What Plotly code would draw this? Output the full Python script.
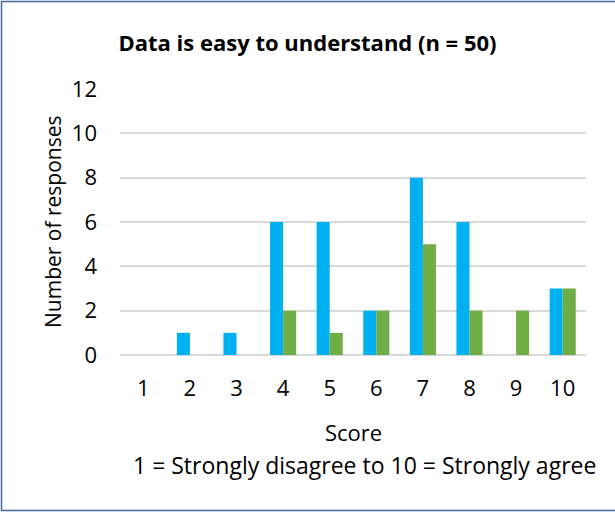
import plotly.graph_objects as go

scores = ["1", "2", "3", "4", "5", "6", "7", "8", "9", "10"]
series_a = [0, 1, 1, 6, 6, 2, 8, 6, 0, 3]
series_b = [0, 0, 0, 2, 1, 2, 5, 2, 2, 3]
y_ticks = [0, 2, 4, 6, 8, 10, 12]

FONT = "Open Sans"

fig = go.Figure()
fig.add_trace(go.Bar(x=scores, y=series_a, marker=dict(color="#00B0F0", line=dict(width=0))))
fig.add_trace(go.Bar(x=scores, y=series_b, marker=dict(color="#70AD47", line=dict(width=0))))

fig.update_layout(
    width=615, height=512,
    margin=dict(l=120, r=29, t=89, b=157),
    paper_bgcolor="white", plot_bgcolor="white",
    showlegend=False,
    barmode="group", bargap=0.44, bargroupgap=0,
    font=dict(family=FONT, color="#000000", size=22),
    title=dict(text="<b>Data is easy to understand (n = 50)</b>",
               x=0.5, xanchor="center", xref="container", y=1 - 43 / 512, yanchor="middle",
               font=dict(family=FONT, size=22, color="#000000")),
)
fig.update_xaxes(showgrid=False, showline=False, zeroline=False, ticks="",
                 tickfont=dict(size=22), ticklabelstandoff=18)
fig.update_yaxes(range=[0, 12], tickvals=y_ticks, showgrid=True, gridcolor="#D9D9D9", gridwidth=1.5,
                 zeroline=True, zerolinecolor="#D9D9D9", zerolinewidth=1.5, showline=False,
                 ticks="", tickfont=dict(size=22), ticklabelstandoff=22)

fig.add_annotation(text="Score", xref="paper", yref="paper", x=0.5, y=-(432 - 355) / 266,
                   showarrow=False, yanchor="middle", font=dict(size=22))
fig.add_annotation(text="1 = Strongly disagree to 10 = Strongly agree", xref="paper", yref="paper",
                   x=(364 - 120) / 466, y=-(465 - 355) / 266, showarrow=False, yanchor="middle",
                   font=dict(size=23))
fig.add_annotation(text="Number of responses", xref="paper", yref="paper", x=-(120 - 53) / 466,
                   y=(355 - 222) / 266, textangle=-90, showarrow=False, xanchor="center",
                   yanchor="middle", font=dict(size=21))

# outer frame of the chart area
fig.add_shape(type="rect", xref="paper", yref="paper",
              x0=-(120 - 1.5) / 466, x1=(640 - 120) / 466, y0=-(510.5 - 355) / 266, y1=(355 - 1.5) / 266,
              line=dict(color="#41699A", width=1.5), fillcolor="rgba(0,0,0,0)", layer="below")

fig.write_html("out.html")
